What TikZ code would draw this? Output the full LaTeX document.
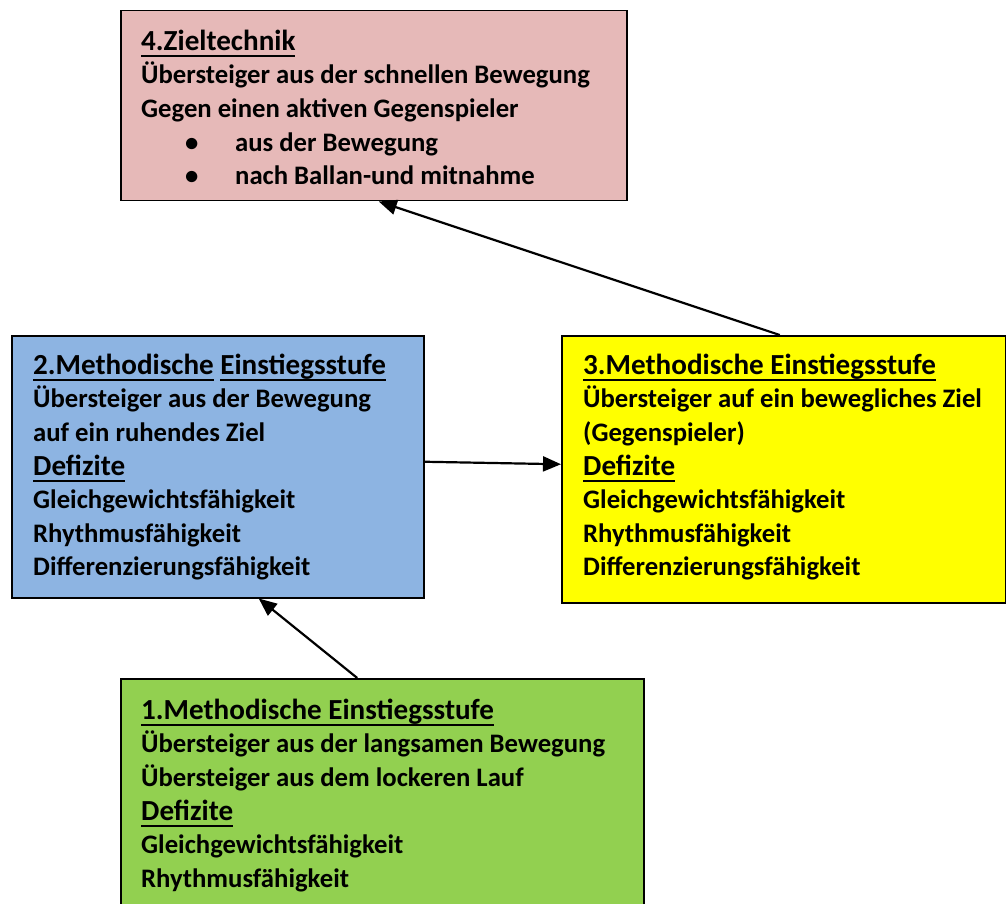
\documentclass[tikz,border=0pt]{standalone}
\usepackage{fontspec}
\setmainfont{Carlito}
\usetikzlibrary{arrows.meta}
\definecolor{zielrot}{HTML}{E6B9B8}
\definecolor{stufeblau}{HTML}{8DB4E2}
\definecolor{stufegelb}{HTML}{FFFF00}
\definecolor{stufegruen}{HTML}{92D050}
\newsavebox\unterbox
\newcommand\unter[1]{\sbox\unterbox{#1}\rlap{\rule[-7pt]{\wd\unterbox}{2.5pt}}\usebox\unterbox}
\newcommand\titel[1]{{\fontsize{29.1}{33.6}\selectfont\rule{0pt}{25pt}#1}}
\newcommand\punkt{\hspace*{44pt}\makebox[50pt][l]{\textbullet}}
\tikzset{
	kasten/.style={draw=black, line width=1.5pt, anchor=north west, inner sep=0pt},
	inhalt/.style={anchor=north west, inner sep=0pt, align=left, font=\bfseries\fontsize{26.7}{33.6}\selectfont},
	pfeil/.style={line width=2.2pt, -{Triangle[length=18pt,width=15pt]}}
}

\begin{document}
\begin{tikzpicture}[x=1pt, y=-1pt]
			%%%%% START %%%%%
			\useasboundingbox (0, 0) rectangle (1006, 904);
			\clip (0, 0) rectangle (1006, 904);
			
			\node[kasten, fill=zielrot, minimum width=506pt, minimum height=190pt] (ziel) at (120, 10) {};
			\node[inhalt] (zieltext) at ([xshift=21pt, yshift=-15pt]ziel.north west) {\titel{\unter{4.Zieltechnik}}\\
				Übersteiger aus der schnellen Bewegung\\
				Gegen einen aktiven Gegenspieler\\
				\punkt aus der Bewegung\\
				\punkt nach Ballan-und mitnahme};
			
			\node[kasten, fill=stufeblau, minimum width=412pt, minimum height=262pt] (stufe2) at (11, 335) {};
			\node[inhalt] (stufe2text) at ([xshift=22pt, yshift=-14pt]stufe2.north west) {\titel{\unter{2.Methodische} \unter{Einstiegsstufe}}\\
				Übersteiger aus der Bewegung\\
				auf ein ruhendes Ziel\\
				\titel{\unter{Defizite}}\\
				Gleichgewichtsfähigkeit\\
				Rhythmusfähigkeit\\
				Differenzierungsfähigkeit};
			
			\node[kasten, fill=stufegelb, minimum width=444pt, minimum height=267pt] (stufe3) at (561, 335) {};
			\node[inhalt] (stufe3text) at ([xshift=22pt, yshift=-14pt]stufe3.north west) {\titel{\unter{3.Methodische Einstiegsstufe}}\\
				Übersteiger auf ein bewegliches Ziel\\
				(Gegenspieler)\\
				\titel{\unter{Defizite}}\\
				Gleichgewichtsfähigkeit\\
				Rhythmusfähigkeit\\
				Differenzierungsfähigkeit};
			
			\node[kasten, fill=stufegruen, minimum width=523pt, minimum height=250pt] (stufe1) at (120, 678) {};
			\node[inhalt] (stufe1text) at ([xshift=21pt, yshift=-16pt]stufe1.north west) {\titel{\unter{1.Methodische Einstiegsstufe}}\\
				Übersteiger aus der langsamen Bewegung\\
				Übersteiger aus dem lockeren Lauf\\
				\titel{\unter{Defizite}}\\
				Gleichgewichtsfähigkeit\\
				Rhythmusfähigkeit};
			
			\draw[pfeil] ([xshift=-25pt]stufe1.north) -- ([xshift=41pt]stufe2.south);
			\draw[pfeil] ([yshift=5pt]stufe2.east) -- ([yshift=5pt]stufe3.west);
			\draw[pfeil] ([xshift=-4pt]stufe3.north) -- ([xshift=5pt]ziel.south);
			%%%%% END %%%%%
\end{tikzpicture}
\end{document}
